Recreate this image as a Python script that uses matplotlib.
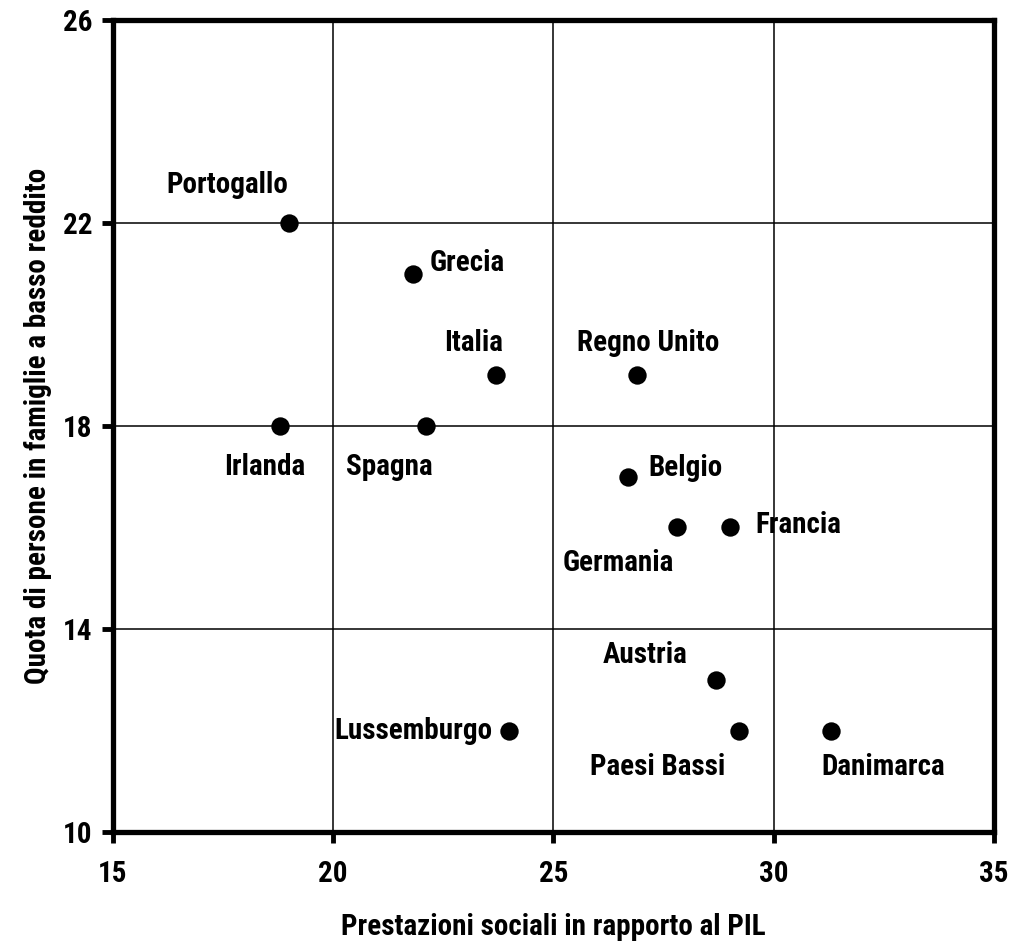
import matplotlib.pyplot as plt
from matplotlib import font_manager

# data
paesi = ['Portogallo', 'Grecia', 'Italia', 'Regno Unito', 'Irlanda', 'Spagna',
         'Belgio', 'Germania', 'Francia', 'Austria', 'Paesi Bassi',
         'Lussemburgo', 'Danimarca']
prestazioni = [19.0, 21.8, 23.7, 26.9, 18.8, 22.1, 26.7, 27.8, 29.0, 28.7, 29.2, 24.0, 31.3]
quota = [22.0, 21.0, 19.0, 19.0, 18.0, 18.0, 17.0, 16.0, 16.0, 13.0, 12.0, 12.0, 12.0]

x_ticks = [15, 20, 25, 30, 35]
y_ticks = [10, 14, 18, 22, 26]

# label placement (pixel offset from point, horizontal alignment)
label_pos = {
    'Portogallo': (-62, 38, 'center'),
    'Grecia': (17, 11, 'left'),
    'Italia': (-23, 32, 'center'),
    'Regno Unito': (11, 32, 'center'),
    'Irlanda': (-16, -41, 'center'),
    'Spagna': (-36, -41, 'center'),
    'Belgio': (20, 9, 'left'),
    'Germania': (-59, -36, 'center'),
    'Francia': (26, 2, 'left'),
    'Austria': (-71, 25, 'center'),
    'Paesi Bassi': (-81, -36, 'center'),
    'Lussemburgo': (-17, 0, 'right'),
    'Danimarca': (52, -36, 'center'),
}

names = {f.name for f in font_manager.fontManager.ttflist}
fam = 'Liberation Sans Narrow' if 'Liberation Sans Narrow' in names else 'Roboto Condensed'
if fam not in names:
    fam = 'DejaVu Sans'
plt.rcParams['font.family'] = [fam, 'DejaVu Sans']
plt.rcParams['font.weight'] = 'bold'
fs = 21

fig = plt.figure(figsize=(10.14, 9.5), dpi=100)
ax = fig.add_axes([0.1114, 0.1242, 0.8689, 0.8548])

ax.scatter(prestazioni, quota, s=175, color='black', zorder=3, linewidths=0)

for p, xv, yv in zip(paesi, prestazioni, quota):
    dx, dy, ha = label_pos[p]
    ax.annotate(p, (xv, yv), xytext=(dx, dy), textcoords='offset pixels',
                ha=ha, va='center', fontsize=fs, fontweight='bold', zorder=4)

ax.set_xlim(15, 35)
ax.set_ylim(10, 26)
ax.set_xticks(x_ticks)
ax.set_yticks(y_ticks)
ax.grid(True, color='black', linewidth=1.1)
ax.set_axisbelow(True)
for s in ax.spines.values():
    s.set_linewidth(3.8)
ax.tick_params(direction='out', length=8, width=3.5, labelsize=fs)
ax.tick_params(axis='x', pad=12)
ax.tick_params(axis='y', pad=7)

ax.set_xlabel('Prestazioni sociali in rapporto al PIL', fontsize=fs, fontweight='bold', labelpad=18)
ax.set_ylabel('Quota di persone in famiglie a basso reddito', fontsize=fs, fontweight='bold', labelpad=8)

fig.savefig('out.png', dpi=100)
